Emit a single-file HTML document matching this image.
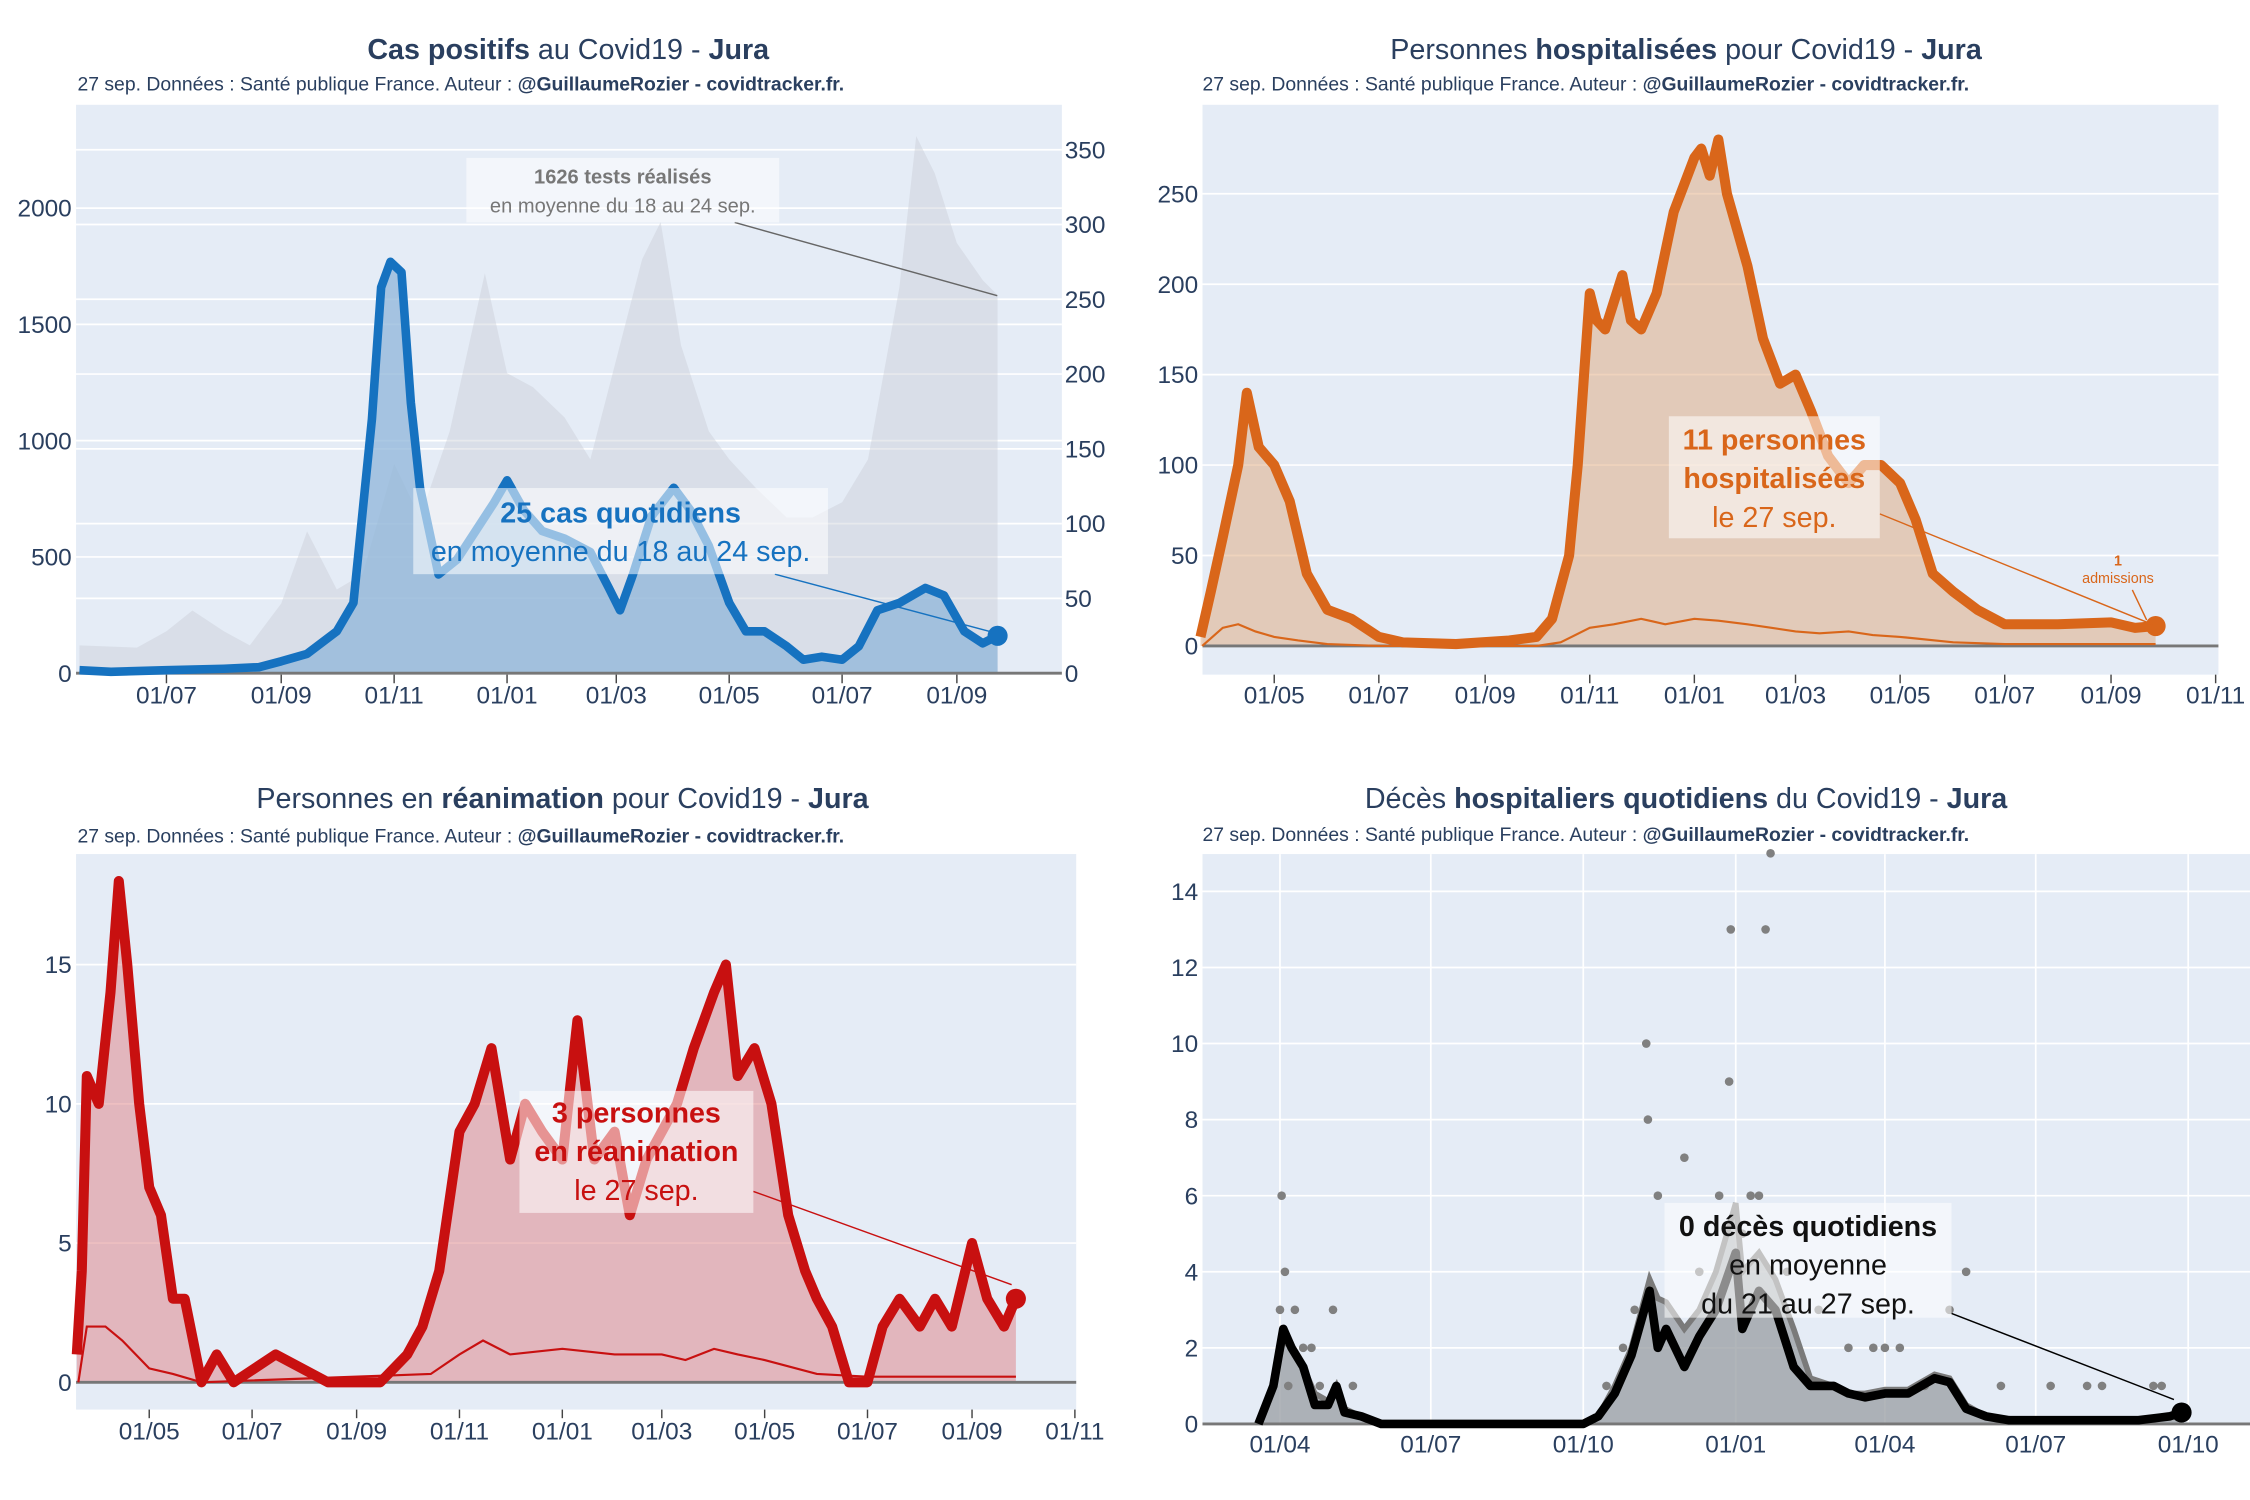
<!DOCTYPE html>
<html><head><meta charset="utf-8">
<style>
html,body{margin:0;padding:0;background:#fff;}
svg{display:block;font-family:"Liberation Sans","DejaVu Sans",sans-serif;}
</style></head>
<body>
<svg id="chart" width="2250" height="1500" viewBox="0 0 1568 1045" preserveAspectRatio="none" xmlns="http://www.w3.org/2000/svg">
</svg>
<script>
// ===== Panel 1 : cas positifs (right axis) & tests (left axis)
const casesDates = ["2020-05-15","2020-06-01","2020-07-01","2020-08-01","2020-08-20","2020-09-01","2020-09-15","2020-10-01","2020-10-10","2020-10-20","2020-10-25","2020-10-30","2020-11-05","2020-11-10","2020-11-15","2020-11-25","2020-12-05","2020-12-15","2020-12-25","2021-01-01","2021-01-10","2021-01-20","2021-02-01","2021-02-15","2021-02-25","2021-03-03","2021-03-10","2021-03-20","2021-04-01","2021-04-10","2021-04-20","2021-05-01","2021-05-10","2021-05-20","2021-06-01","2021-06-10","2021-06-20","2021-07-01","2021-07-10","2021-07-20","2021-08-01","2021-08-15","2021-08-25","2021-09-05","2021-09-15","2021-09-23"];
const casesValues = [2,1,2,3,4,8,13,28,47,170,258,275,268,181,124,66,76,95,114,129,109,95,90,81,57,42,66,105,124,109,85,47,28,28,18,9,11,9,18,42,47,57,52,28,20,25];
const testsDates = ["2020-05-15","2020-06-15","2020-07-01","2020-07-15","2020-08-01","2020-08-15","2020-09-01","2020-09-15","2020-10-01","2020-10-15","2020-11-01","2020-11-15","2020-12-01","2020-12-20","2021-01-01","2021-01-15","2021-02-01","2021-02-15","2021-03-01","2021-03-15","2021-03-25","2021-04-05","2021-04-20","2021-05-01","2021-05-15","2021-06-01","2021-06-15","2021-07-01","2021-07-15","2021-08-01","2021-08-10","2021-08-20","2021-09-01","2021-09-15","2021-09-23"];
const testsValues = [120,110,180,270,180,120,300,610,360,425,900,670,1040,1720,1290,1230,1100,920,1350,1780,1940,1410,1040,920,800,670,670,735,920,1660,2310,2150,1850,1690,1626];
const p1LeftTicks = [0,500,1000,1500,2000];
const p1RightTicks = [0,50,100,150,200,250,300,350];
const p1XTicks = ["2020-07-01","2020-09-01","2020-11-01","2021-01-01","2021-03-01","2021-05-01","2021-07-01","2021-09-01"];

// ===== Panel 2 : hospitalisations
const hospDates = ["2020-03-19","2020-03-25","2020-04-01","2020-04-10","2020-04-15","2020-04-22","2020-05-01","2020-05-10","2020-05-20","2020-06-01","2020-06-15","2020-07-01","2020-07-15","2020-08-15","2020-09-15","2020-10-01","2020-10-10","2020-10-20","2020-10-25","2020-11-01","2020-11-05","2020-11-10","2020-11-20","2020-11-25","2020-12-01","2020-12-10","2020-12-20","2021-01-01","2021-01-05","2021-01-10","2021-01-15","2021-01-20","2021-02-01","2021-02-10","2021-02-20","2021-03-01","2021-03-10","2021-03-20","2021-04-01","2021-04-10","2021-04-20","2021-05-01","2021-05-10","2021-05-20","2021-06-01","2021-06-15","2021-07-01","2021-08-01","2021-09-01","2021-09-15","2021-09-27"];
const hospValues = [5,30,60,100,140,110,100,80,40,20,15,5,2,1,3,5,15,50,100,195,180,175,205,180,175,195,240,270,275,260,280,250,210,170,145,150,130,105,90,100,100,90,70,40,30,20,12,12,13,10,11];
const admDates = ["2020-03-20","2020-04-01","2020-04-10","2020-04-20","2020-05-01","2020-05-15","2020-06-01","2020-07-01","2020-10-01","2020-10-15","2020-11-01","2020-11-15","2020-12-01","2020-12-15","2021-01-01","2021-01-15","2021-02-01","2021-02-15","2021-03-01","2021-03-15","2021-04-01","2021-04-15","2021-05-01","2021-06-01","2021-07-01","2021-09-27"];
const admValues = [0,10,12,8,5,3,1,0,0,2,10,12,15,12,15,14,12,10,8,7,8,6,5,2,1,1];
const p2YTicks = [0,50,100,150,200,250];
const p2XTicks = ["2020-05-01","2020-07-01","2020-09-01","2020-11-01","2021-01-01","2021-03-01","2021-05-01","2021-07-01","2021-09-01","2021-11-01"];

// ===== Panel 3 : réanimation
const reaDates = ["2020-03-19","2020-03-22","2020-03-25","2020-04-01","2020-04-08","2020-04-13","2020-04-18","2020-04-25","2020-05-01","2020-05-08","2020-05-15","2020-05-22","2020-06-01","2020-06-10","2020-06-20","2020-07-15","2020-08-15","2020-09-15","2020-10-01","2020-10-10","2020-10-20","2020-11-01","2020-11-10","2020-11-20","2020-12-01","2020-12-10","2020-12-20","2021-01-01","2021-01-10","2021-01-20","2021-02-01","2021-02-10","2021-02-20","2021-03-01","2021-03-10","2021-03-20","2021-04-01","2021-04-08","2021-04-15","2021-04-25","2021-05-05","2021-05-15","2021-05-25","2021-06-01","2021-06-10","2021-06-20","2021-07-01","2021-07-10","2021-07-20","2021-08-01","2021-08-10","2021-08-20","2021-09-01","2021-09-10","2021-09-20","2021-09-27"];
const reaValues = [1,4,11,10,14,18,15,10,7,6,3,3,0,1,0,1,0,0,1,2,4,9,10,12,8,10,9,8,13,8,9,6,8,9,10,12,14,15,11,12,10,6,4,3,2,0,0,2,3,2,3,2,5,3,2,3];
const reaAdmDates = ["2020-03-20","2020-03-25","2020-04-05","2020-04-15","2020-05-01","2020-05-15","2020-06-01","2020-10-15","2020-11-01","2020-11-15","2020-12-01","2021-01-01","2021-02-01","2021-03-01","2021-03-15","2021-04-01","2021-04-15","2021-05-01","2021-06-01","2021-07-01","2021-09-27"];
const reaAdmValues = [0,2,2,1.5,0.5,0.3,0,0.3,1,1.5,1,1.2,1,1,0.8,1.2,1,0.8,0.3,0.2,0.2];
const p3YTicks = [0,5,10,15];
const p3XTicks = ["2020-05-01","2020-07-01","2020-09-01","2020-11-01","2021-01-01","2021-03-01","2021-05-01","2021-07-01","2021-09-01","2021-11-01"];

// ===== Panel 4 : décès
const dcDates = ["2020-03-19","2020-03-28","2020-04-03","2020-04-08","2020-04-15","2020-04-22","2020-04-30","2020-05-05","2020-05-10","2020-05-20","2020-06-01","2020-10-01","2020-10-10","2020-10-20","2020-10-30","2020-11-10","2020-11-15","2020-11-20","2020-12-01","2020-12-10","2020-12-20","2021-01-01","2021-01-05","2021-01-15","2021-01-25","2021-02-05","2021-02-15","2021-03-01","2021-03-10","2021-03-20","2021-04-01","2021-04-15","2021-05-01","2021-05-10","2021-05-20","2021-06-01","2021-06-15","2021-07-01","2021-08-01","2021-09-01","2021-09-20","2021-09-27"];
const dcAvgValues = [0,1,2.5,2,1.5,0.5,0.5,1,0.3,0.2,0,0,0.2,0.8,1.8,3.5,2,2.5,1.5,2.3,3,4.5,2.5,3.5,3,1.5,1,1,0.8,0.7,0.8,0.8,1.2,1.1,0.4,0.2,0.1,0.1,0.1,0.1,0.2,0.3];
const dcSmoothValues = [0,1,2.2,2,1.5,0.8,0.6,1,0.4,0.2,0,0,0.2,1,2,3.8,3.3,3.2,2.5,3,4,5.8,4,4.5,3.8,2.5,1.2,1,0.8,0.8,0.9,0.9,1.3,1.2,0.5,0.2,0.1,0.1,0.1,0.1,0.2,0.3];
const dotDates = ["2020-04-02","2020-04-04","2020-04-01","2020-04-10","2020-04-15","2020-04-20","2020-05-03","2020-04-06","2020-04-25","2020-05-15","2020-11-08","2020-11-09","2020-12-01","2020-12-29","2020-12-28","2021-01-19","2021-01-22","2020-11-15","2020-12-22","2021-01-10","2021-01-15","2020-11-01","2020-12-10","2021-01-05","2021-02-01","2021-02-20","2021-03-10","2021-03-25","2021-04-10","2021-04-25","2021-05-10","2021-05-20","2021-06-10","2021-07-10","2021-08-01","2021-08-10","2021-09-10","2021-09-15","2020-10-15","2020-10-25","2021-03-01","2021-04-01"];
const dotValues = [6,4,3,3,2,2,3,1,1,1,10,8,7,13,9,13,15,6,6,6,6,3,4,5,4,3,2,2,2,1,3,4,1,1,1,1,1,1,1,2,1,2];
const p4YTicks = [0,2,4,6,8,10,12,14];
const p4XTicks = ["2020-04-01","2020-07-01","2020-10-01","2021-01-01","2021-04-01","2021-07-01","2021-10-01"];

// ===== helpers
const svg = document.getElementById('chart');
const NS = 'http://www.w3.org/2000/svg';
function day(s){const p=s.split('-');return Date.UTC(+p[0],+p[1]-1,+p[2])/86400000;}
function lbl(s){const p=s.split('-');return p[2]+'/'+p[1];}
function mk(tag, attrs, parent){const e=document.createElementNS(NS,tag);for(const k in attrs)e.setAttribute(k,attrs[k]);(parent||svg).appendChild(e);return e;}
function txt(x,y,str,size,color,anchor,weight,parent){const t=mk('text',{x:x,y:y,'font-size':size,fill:color,'text-anchor':anchor||'start','font-weight':weight||'normal'},parent);t.textContent=str;return t;}
function pts(dates,vals,X,Y){return dates.map((d,i)=>X(day(d)).toFixed(1)+','+Y(vals[i]).toFixed(1));}
const AX='#2a3f5f';

function title(cx,y,parts){const t=mk('text',{x:cx,y:y,'font-size':20,fill:AX,'text-anchor':'middle'});
 
 parts.forEach(p=>{const s=mk('tspan',{'font-weight':p[1]?'bold':'normal'},t);s.textContent=p[0];});}
function subtitle(x,y){const t=mk('text',{x:x,y:y,'font-size':13.5,fill:AX});
 
 const a=mk('tspan',{},t);a.textContent='27 sep. Données : Santé publique France. Auteur : ';
 const b=mk('tspan',{'font-weight':'bold'},t);b.textContent='@GuillaumeRozier - covidtracker.fr.';}

function panelBg(x0,y0,x1,y1,name){const r=mk('rect',{x:x0,y:y0,width:x1-x0,height:y1-y0,fill:'#e5ecf6'});
 }
function hgrid(ticks,Y,x0,x1,lx,anchor,name){const g=mk('g',{});
 ticks.forEach(v=>{mk('line',{x1:x0,x2:x1,y1:Y(v),y2:Y(v),stroke:'#fff','stroke-width':1.2},g);
  if(lx!==null){const t=txt(lx,Y(v)+6,String(v),17,AX,anchor,'normal',g);}});}
function xticks(ticks,X,y,tickTop,name,grid){const g=mk('g',{});
 ticks.forEach(d=>{const x=X(day(d));
  if(grid) mk('line',{x1:x,x2:x,y1:grid[0],y2:grid[1],stroke:'#fff','stroke-width':1.2},g);
  else mk('line',{x1:x,x2:x,y1:tickTop,y2:tickTop+6,stroke:'#444','stroke-width':1},g);
  const t=txt(x,y,lbl(d),17,AX,'middle','normal',g);});}
function annot(x0,y0,w,h,lines,color,name){const g=mk('g',{});
 mk('rect',{x:x0,y:y0,width:w,height:h,fill:'#fff','fill-opacity':0.55},g);
 lines.forEach(l=>{txt(x0+w/2,l[1],l[0],l[2],color,'middle',l[3]?'bold':'normal',g);});return g;}

// ===== Panel 1
(function(){
 const X=d=>116+(d-day('2020-07-01'))*1.29;
 const YL=v=>469-v*0.162;
 const YR=v=>469-v*1.042;
 panelBg(53,73,740,470,'cases-plot-area');
 hgrid(p1LeftTicks,YL,53,740,50,'end','left-y-axis');
 const gr=mk('g',{});
 p1RightTicks.forEach(v=>{mk('line',{x1:53,x2:740,y1:YR(v),y2:YR(v),stroke:'#fff','stroke-width':1.2},gr);txt(742,YR(v)+6,String(v),17,AX,'start','normal',gr);});
 const base=469;
 const tp=pts(testsDates,testsValues,X,YL);
 const ta=mk('polygon',{points:X(day(testsDates[0]))+','+base+' '+tp.join(' ')+' '+X(day(testsDates[testsDates.length-1]))+','+base,fill:'#c9ced6','fill-opacity':0.45});
 
 const cp=pts(casesDates,casesValues,X,YR);
 const ca=mk('polygon',{points:X(day(casesDates[0]))+','+base+' '+cp.join(' ')+' '+X(day(casesDates[casesDates.length-1]))+','+base,fill:'#8fb6da','fill-opacity':0.75});
 
 mk('line',{x1:53,x2:740,y1:base,y2:base,stroke:'#777','stroke-width':2});
 const cl=mk('polyline',{points:cp.join(' '),fill:'none',stroke:'#1672c0','stroke-width':6,'stroke-linejoin':'round'});
 
 const li=casesDates.length-1;
 const dot=mk('circle',{cx:X(day(casesDates[li])),cy:YR(casesValues[li]),r:7,fill:'#1672c0'});
 
 xticks(p1XTicks,X,490,470,'x-axis',null);
 mk('line',{x1:512,y1:155,x2:695,y2:206,stroke:'#666','stroke-width':1});
 annot(325,110,218,45,[['1626 tests réalisés',128,14,true],['en moyenne du 18 au 24 sep.',148,14,false]],'#777','tests-annotation');
 mk('line',{x1:540,y1:400,x2:690,y2:440,stroke:'#1672c0','stroke-width':1});
 annot(288,340,289,60,[['25 cas quotidiens',364,20,true],['en moyenne du 18 au 24 sep.',391,20,false]],'#1672c0','cases-annotation');
 title(396,41,[['Cas positifs',true],[' au Covid19 - ',false],['Jura',true]]);
 subtitle(54,63);
})();

// ===== Panel 2
(function(){
 const X=d=>888+(d-day('2020-05-01'))*1.195;
 const Y=v=>450-v*1.26;
 panelBg(838,73,1546,470,'hosp-plot-area');
 hgrid(p2YTicks,Y,838,1546,835,'end','y-axis');
 const hp=pts(hospDates,hospValues,X,Y);
 const a=mk('polygon',{points:X(day(hospDates[0]))+',450 '+hp.join(' ')+' '+X(day(hospDates[hospDates.length-1]))+',450',fill:'#e0a77c','fill-opacity':0.5});
 
 mk('line',{x1:838,x2:1546,y1:450,y2:450,stroke:'#777','stroke-width':2});
 const al=mk('polyline',{points:pts(admDates,admValues,X,Y).join(' '),fill:'none',stroke:'#d9661a','stroke-width':1.5});
 
 const l=mk('polyline',{points:hp.join(' '),fill:'none',stroke:'#d9661a','stroke-width':7,'stroke-linejoin':'round'});
 
 const li=hospDates.length-1;
 const dot=mk('circle',{cx:X(day(hospDates[li])),cy:Y(hospValues[li]),r:7,fill:'#d9661a'});
 
 xticks(p2XTicks,X,490,470,'x-axis',null);
 mk('line',{x1:1310,y1:358,x2:1500,y2:435,stroke:'#d9661a','stroke-width':1});
 annot(1163,290,147,85,[['11 personnes',313,20,true],['hospitalisées',340,20,true],['le 27 sep.',367,20,false]],'#d9661a','hosp-annotation');
 const ag=mk('g',{});
 txt(1476,394,'1',10,'#d9661a','middle','bold',ag);txt(1476,406,'admissions',10,'#d9661a','middle','normal',ag);
 mk('line',{x1:1486,y1:411,x2:1496,y2:432,stroke:'#d9661a','stroke-width':1},ag);
 title(1175,41,[['Personnes ',false],['hospitalisées',true],[' pour Covid19 - ',false],['Jura',true]]);
 subtitle(838,63);
})();

// ===== Panel 3
(function(){
 const X=d=>104+(d-day('2020-05-01'))*1.175;
 const Y=v=>963-v*19.4;
 panelBg(53,595,750,982,'rea-plot-area');
 hgrid(p3YTicks,Y,53,750,50,'end','y-axis');
 const rp=pts(reaDates,reaValues,X,Y);
 const a=mk('polygon',{points:X(day(reaDates[0]))+',963 '+rp.join(' ')+' '+X(day(reaDates[reaDates.length-1]))+',963',fill:'#e08a8e','fill-opacity':0.55});
 
 mk('line',{x1:53,x2:750,y1:963,y2:963,stroke:'#777','stroke-width':2});
 const al=mk('polyline',{points:pts(reaAdmDates,reaAdmValues,X,Y).join(' '),fill:'none',stroke:'#c81010','stroke-width':1.5});
 
 const l=mk('polyline',{points:rp.join(' '),fill:'none',stroke:'#c81010','stroke-width':7,'stroke-linejoin':'round'});
 
 const li=reaDates.length-1;
 const dot=mk('circle',{cx:X(day(reaDates[li])),cy:Y(reaValues[li]),r:7,fill:'#c81010'});
 
 xticks(p3XTicks,X,1003,982,'x-axis',null);
 mk('line',{x1:525,y1:830,x2:705,y2:895,stroke:'#c81010','stroke-width':1});
 annot(362,760,163,85,[['3 personnes',782,20,true],['en réanimation',809,20,true],['le 27 sep.',836,20,false]],'#c81010','rea-annotation');
 title(392,563,[['Personnes en ',false],['réanimation',true],[' pour Covid19 - ',false],['Jura',true]]);
 subtitle(54,587);
})();

// ===== Panel 4
(function(){
 const X=d=>892+(d-day('2020-04-01'))*1.155;
 const Y=v=>992-v*26.5;
 panelBg(838,595,1568,993,'deaths-plot-area');
 hgrid(p4YTicks,Y,838,1568,835,'end','y-axis');
 xticks(p4XTicks,X,1012,993,'x-axis',[595,993]);
 const sp=pts(dcDates,dcSmoothValues,X,Y);
 const a=mk('polygon',{points:X(day(dcDates[0]))+',992 '+sp.join(' ')+' '+X(day(dcDates[dcDates.length-1]))+',992',fill:'#9ea2a8','fill-opacity':0.8});
 
 const sl=mk('polyline',{points:sp.join(' '),fill:'none',stroke:'#7a7a7a','stroke-width':4});
 
 const dg=mk('g',{});
 dotDates.forEach((d,i)=>{const c=mk('circle',{cx:X(day(d)),cy:Y(dotValues[i]),r:3,fill:'#808080'},dg);
  });
 mk('line',{x1:838,x2:1568,y1:992,y2:992,stroke:'#777','stroke-width':2});
 const l=mk('polyline',{points:pts(dcDates,dcAvgValues,X,Y).join(' '),fill:'none',stroke:'#000','stroke-width':6,'stroke-linejoin':'round'});
 
 const li=dcDates.length-1;
 const dot=mk('circle',{cx:X(day(dcDates[li])),cy:Y(dcAvgValues[li]),r:7,fill:'#000'});
 
 mk('line',{x1:1360,y1:915,x2:1515,y2:975,stroke:'#000','stroke-width':1});
 annot(1160,838,200,80,[['0 décès quotidiens',861,20,true],['en moyenne',888,20,false],['du 21 au 27 sep.',915,20,false]],'#111','deaths-annotation');
 title(1175,563,[['Décès ',false],['hospitaliers quotidiens',true],[' du Covid19 - ',false],['Jura',true]]);
 subtitle(838,586);
})();
</script>
</body></html>
